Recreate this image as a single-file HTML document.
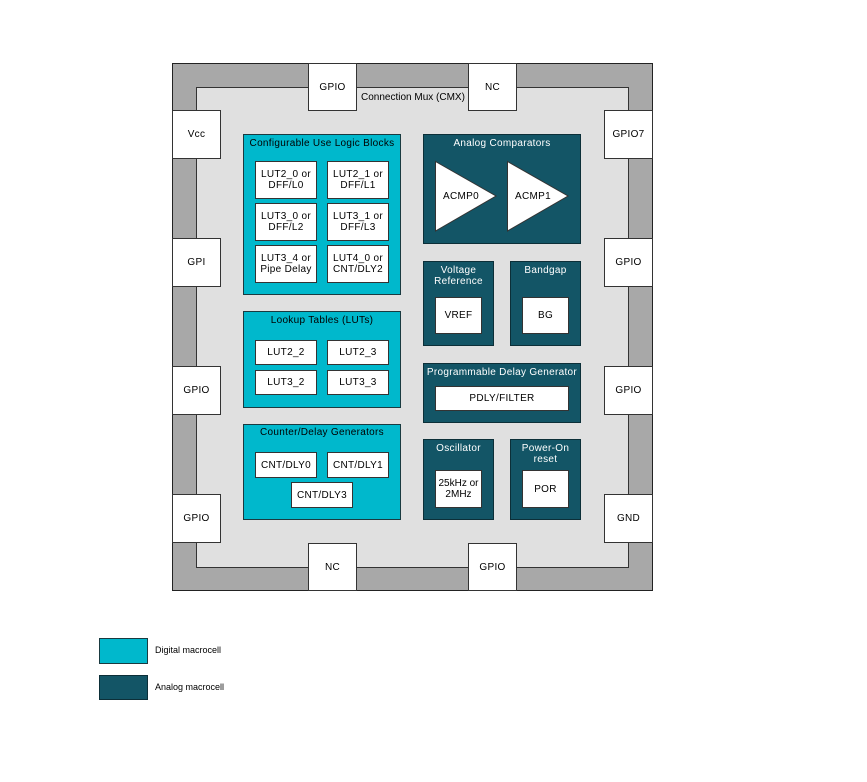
<!DOCTYPE html>
<html><head><style>
body{margin:0;width:867px;height:782px;background:#fff;position:relative;font-family:"Liberation Sans",sans-serif;font-size:10px;letter-spacing:0.3px;color:#000;overflow:hidden}
div{position:absolute;box-sizing:border-box}
.w{background:#fff;border:1px solid #333;display:flex;align-items:center;justify-content:center;text-align:center;line-height:11px}
.d{background:#00b8cc;border:1px solid #1a3a40}
.a{background:#135566;border:1px solid #0c2f38}
.t{left:0;right:0;text-align:center;line-height:11px;white-space:nowrap}
.a .t{color:#fff}
</style></head><body>
<div style="left:172px;top:63px;width:481px;height:528px;background:#a8a8a8;border:1px solid #222"></div>
<div style="left:196px;top:87px;width:433px;height:481px;background:#e0e0e0;border:1px solid #333"></div>
<div style="left:361px;top:92px;letter-spacing:0;white-space:nowrap">Connection Mux (CMX)</div>

<div class="w" style="left:308px;top:63px;width:49px;height:48px">GPIO</div>
<div class="w" style="left:468px;top:63px;width:49px;height:48px">NC</div>
<div class="w" style="left:172px;top:110px;width:49px;height:49px">Vcc</div>
<div class="w" style="left:172px;top:238px;width:49px;height:49px">GPI</div>
<div class="w" style="left:172px;top:366px;width:49px;height:49px">GPIO</div>
<div class="w" style="left:172px;top:494px;width:49px;height:49px">GPIO</div>
<div class="w" style="left:604px;top:110px;width:49px;height:49px">GPIO7</div>
<div class="w" style="left:604px;top:238px;width:49px;height:49px">GPIO</div>
<div class="w" style="left:604px;top:366px;width:49px;height:49px">GPIO</div>
<div class="w" style="left:604px;top:494px;width:49px;height:49px">GND</div>
<div class="w" style="left:308px;top:543px;width:49px;height:48px">NC</div>
<div class="w" style="left:468px;top:543px;width:49px;height:48px">GPIO</div>

<div class="d" style="left:243px;top:134px;width:158px;height:161px"><div class="t" style="top:3px">Configurable Use Logic Blocks</div></div>
<div class="w" style="left:255px;top:161px;width:62px;height:38px">LUT2_0 or<br>DFF/L0</div>
<div class="w" style="left:327px;top:161px;width:62px;height:38px">LUT2_1 or<br>DFF/L1</div>
<div class="w" style="left:255px;top:203px;width:62px;height:38px">LUT3_0 or<br>DFF/L2</div>
<div class="w" style="left:327px;top:203px;width:62px;height:38px">LUT3_1 or<br>DFF/L3</div>
<div class="w" style="left:255px;top:245px;width:62px;height:38px">LUT3_4 or<br>Pipe Delay</div>
<div class="w" style="left:327px;top:245px;width:62px;height:38px">LUT4_0 or<br>CNT/DLY2</div>

<div class="d" style="left:243px;top:311px;width:158px;height:97px"><div class="t" style="top:3px">Lookup Tables (LUTs)</div></div>
<div class="w" style="left:255px;top:340px;width:62px;height:25px">LUT2_2</div>
<div class="w" style="left:327px;top:340px;width:62px;height:25px">LUT2_3</div>
<div class="w" style="left:255px;top:370px;width:62px;height:25px">LUT3_2</div>
<div class="w" style="left:327px;top:370px;width:62px;height:25px">LUT3_3</div>

<div class="d" style="left:243px;top:424px;width:158px;height:96px"><div class="t" style="top:2px">Counter/Delay Generators</div></div>
<div class="w" style="left:255px;top:452px;width:62px;height:26px">CNT/DLY0</div>
<div class="w" style="left:327px;top:452px;width:62px;height:26px">CNT/DLY1</div>
<div class="w" style="left:291px;top:482px;width:62px;height:26px">CNT/DLY3</div>

<div class="a" style="left:423px;top:134px;width:158px;height:110px"><div class="t" style="top:3px">Analog Comparators</div></div>
<svg style="position:absolute;left:0;top:0" width="867" height="782">
<polygon points="435.5,161.5 496,196 435.5,231" fill="#fff" stroke="#333"/>
<polygon points="507.5,161.5 568,196 507.5,231" fill="#fff" stroke="#333"/>
<text x="443" y="199" font-size="10" letter-spacing="0.3" font-family="Liberation Sans">ACMP0</text>
<text x="515" y="199" font-size="10" letter-spacing="0.3" font-family="Liberation Sans">ACMP1</text>
</svg>

<div class="a" style="left:423px;top:261px;width:71px;height:85px"><div class="t" style="top:3px">Voltage<br>Reference</div></div>
<div class="w" style="left:435px;top:297px;width:47px;height:37px">VREF</div>
<div class="a" style="left:510px;top:261px;width:71px;height:85px"><div class="t" style="top:3px">Bandgap</div></div>
<div class="w" style="left:522px;top:297px;width:47px;height:37px">BG</div>

<div class="a" style="left:423px;top:363px;width:158px;height:60px"><div class="t" style="top:3px">Programmable Delay Generator</div></div>
<div class="w" style="left:435px;top:386px;width:134px;height:25px">PDLY/FILTER</div>

<div class="a" style="left:423px;top:439px;width:71px;height:81px"><div class="t" style="top:3px">Oscillator</div></div>
<div class="w" style="left:435px;top:470px;width:47px;height:38px;letter-spacing:0">25kHz or<br>2MHz</div>
<div class="a" style="left:510px;top:439px;width:71px;height:81px"><div class="t" style="top:3px">Power-On<br>reset</div></div>
<div class="w" style="left:522px;top:470px;width:47px;height:38px">POR</div>

<div class="d" style="left:99px;top:638px;width:49px;height:26px"></div>
<div style="left:155px;top:645px;font-size:9px;letter-spacing:0">Digital macrocell</div>
<div class="a" style="left:99px;top:675px;width:49px;height:25px"></div>
<div style="left:155px;top:682px;font-size:9px;letter-spacing:0">Analog macrocell</div>
</body></html>
